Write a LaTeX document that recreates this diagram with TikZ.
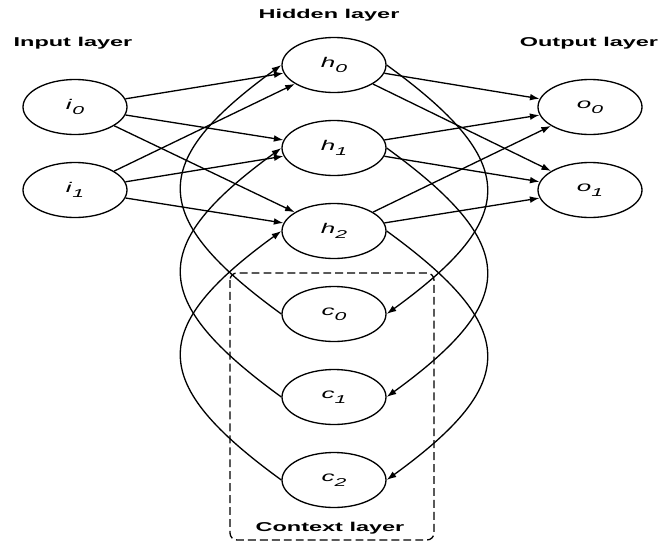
\documentclass[tikz,border=0pt]{standalone}
\usepackage{fontspec}
\setmainfont{Liberation Sans}
\usepackage{tikz}
\usetikzlibrary{arrows.meta,shapes.geometric}

\newcommand{\nlab}[2]{\scalebox{1.85}[1]{\fontsize{8}{9}\selectfont\textit{#1}\raisebox{-0.35em}{\fontsize{6.5}{6.5}\selectfont\textit{#2}}}}
\newcommand{\ltitle}[1]{\scalebox{1.83}[1]{\fontsize{7.3}{8.6}\selectfont\bfseries #1}}

\begin{document}
\begin{tikzpicture}[
		line width=0.75pt,
		unit/.style={draw, ellipse, minimum width=2.08cm, minimum height=1.1cm, inner sep=0pt},
		link/.style={-{Latex[length=5.5pt,width=3.8pt]}},
		recur/.style={-{Latex[length=5.5pt,width=3.8pt]}, looseness=1.7},
		ctxbox/.style={dash pattern=on 4.5pt off 2.3pt, rounded corners=4pt}
	]
		\useasboundingbox (0,0) rectangle (13.16,-10.82);
		
		\node (tin) at (1.46,-0.86) {\ltitle{Input layer}};
		\node (thid) at (6.58,-0.3) {\ltitle{Hidden layer}};
		\node (tout) at (11.78,-0.86) {\ltitle{Output layer}};
		\node (tctx) at (6.6,-10.56) {\ltitle{Context layer}};
		
		\node[unit] (i0) at (1.5,-2.14) {\nlab{i}{0}};
		\node[unit] (i1) at (1.5,-3.8) {\nlab{i}{1}};
		
		\node[unit] (h0) at (6.68,-1.3) {\nlab{h}{0}};
		\node[unit] (h1) at (6.68,-2.96) {\nlab{h}{1}};
		\node[unit] (h2) at (6.68,-4.62) {\nlab{h}{2}};
		
		\node[unit] (c0) at (6.68,-6.28) {\nlab{c}{0}};
		\node[unit] (c1) at (6.68,-7.94) {\nlab{c}{1}};
		\node[unit] (c2) at (6.68,-9.6) {\nlab{c}{2}};
		
		\node[unit] (o0) at (11.8,-2.14) {\nlab{o}{0}};
		\node[unit] (o1) at (11.8,-3.8) {\nlab{o}{1}};
		
		\draw[ctxbox] (4.6,-5.46) rectangle (8.68,-10.8);
		
		\draw[link] (i0) -- (h0);
		\draw[link] (i0) -- (h1);
		\draw[link] (i0) -- (h2);
		\draw[link] (i1) -- (h0);
		\draw[link] (i1) -- (h1);
		\draw[link] (i1) -- (h2);
		
		\draw[link] (h0) -- (o0);
		\draw[link] (h0) -- (o1);
		\draw[link] (h1) -- (o0);
		\draw[link] (h1) -- (o1);
		\draw[link] (h2) -- (o0);
		\draw[link] (h2) -- (o1);
		
		\draw[recur] (h0.east) to[out=-36,in=36] (c0.east);
		\draw[recur] (h1.east) to[out=-36,in=36] (c1.east);
		\draw[recur] (h2.east) to[out=-36,in=36] (c2.east);
		\draw[recur] (c0.west) to[out=144,in=-144] (h0.west);
		\draw[recur] (c1.west) to[out=144,in=-144] (h1.west);
		\draw[recur] (c2.west) to[out=144,in=-144] (h2.west);
\end{tikzpicture}
\end{document}
